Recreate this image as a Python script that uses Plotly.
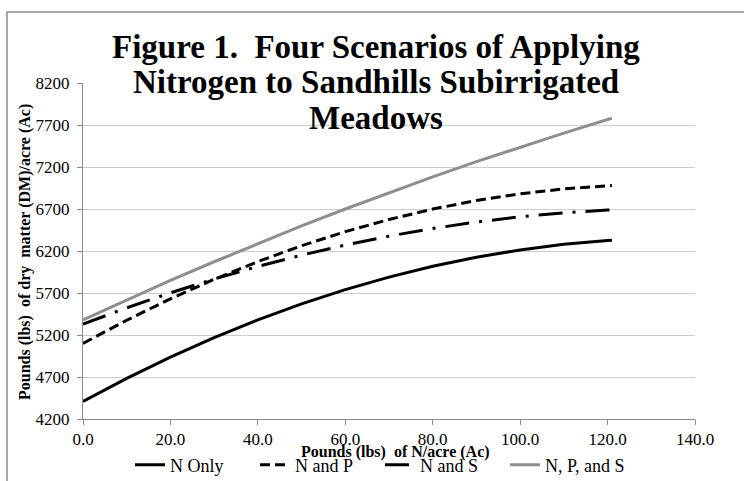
import plotly.graph_objects as go

# Data
n_rate = [0, 10, 20, 30, 40, 50, 60, 70, 80, 90, 100, 110, 120, 121]
n_only = [4410, 4684, 4937, 5169, 5380, 5571, 5740, 5889, 6018, 6126, 6213, 6279, 6325, 6328]
n_and_p = [5100, 5376, 5630, 5863, 6074, 6263, 6430, 6575, 6699, 6801, 6881, 6939, 6976, 6979]
n_and_s = [5330, 5523, 5702, 5866, 6016, 6151, 6271, 6377, 6468, 6545, 6607, 6655, 6688, 6690]
n_p_s = [5380, 5617, 5849, 6072, 6288, 6498, 6700, 6895, 7083, 7264, 7438, 7604, 7765, 7780]

series_names = ["N Only", "N and P", "N and S", "N, P, and S"]
x_ticks = [0, 20, 40, 60, 80, 100, 120, 140]
y_ticks = [4200, 4700, 5200, 5700, 6200, 6700, 7200, 7700, 8200]
title_lines = ["Figure 1.  Four Scenarios of Applying", "Nitrogen to Sandhills Subirrigated", "Meadows"]

SERIF = "Liberation Serif"

W, H = 744, 481
L, R, T, B = 83, 49, 83, 62
pw, ph = W - L - R, H - T - B

def px_x(x):
    return (x - L) / pw

def px_y(y):
    return (H - B - y) / ph

fig = go.Figure()
styles = [
    dict(color="black", width=3, dash="solid"),
    dict(color="black", width=3, dash="10px,5px"),
    dict(color="black", width=3, dash="24px,10px,3px,10px"),
    dict(color="#8e8e8e", width=3, dash="solid"),
]
for name, ys, st in zip(series_names, [n_only, n_and_p, n_and_s, n_p_s], styles):
    fig.add_trace(go.Scatter(x=n_rate, y=ys, mode="lines", name=name, line=st))

fig.update_layout(
    width=W, height=H,
    margin=dict(l=L, r=R, t=T, b=B, autoexpand=False),
    paper_bgcolor="white", plot_bgcolor="white",
    font=dict(family=SERIF, size=17, color="black"),
    showlegend=True,
    legend=dict(orientation="h", x=px_x(380), xanchor="center", y=px_y(465), yanchor="middle",
                font=dict(family=SERIF, size=18), bgcolor="rgba(0,0,0,0)",
                entrywidth=80, tracegroupgap=0),
    xaxis=dict(range=[0, 140], tickvals=x_ticks, ticktext=[f"{v:.1f}" for v in x_ticks],
               automargin=False,
               showgrid=False, zeroline=False, showline=True, linecolor="#8a8a8a", linewidth=1,
               ticks="outside", ticklen=5, tickcolor="#8a8a8a", ticklabelstandoff=0,
               tickfont=dict(family=SERIF, size=17)),
    yaxis=dict(range=[4200, 8200], tickvals=y_ticks, automargin=False,
               showgrid=True, gridcolor="#cccccc", gridwidth=1,
               zeroline=False, showline=True, linecolor="#8a8a8a", linewidth=1,
               ticks="outside", ticklen=5, tickcolor="#8a8a8a", ticklabelstandoff=4,
               tickfont=dict(family=SERIF, size=17)),
)

# Title lines
for line, yc in zip(title_lines, [47, 82, 118]):
    fig.add_annotation(text=f"<b>{line}</b>", xref="paper", yref="paper",
                       x=px_x(376), y=px_y(yc), xanchor="center", yanchor="middle",
                       showarrow=False, font=dict(family=SERIF, size=33, color="black"))
# Axis titles
fig.add_annotation(text="<b>Pounds (lbs)  of N/acre (Ac)</b>", xref="paper", yref="paper",
                   x=px_x(395), y=px_y(452), xanchor="center", yanchor="middle", showarrow=False,
                   font=dict(family=SERIF, size=16, color="black"))
fig.add_annotation(text="<b>Pounds (lbs)  of dry  matter (DM)/acre (Ac)</b>", xref="paper", yref="paper",
                   x=px_x(25), y=px_y(252), xanchor="center", yanchor="middle", showarrow=False,
                   textangle=-90, font=dict(family=SERIF, size=16, color="black"))
# Chart border
fig.add_shape(type="rect", xref="paper", yref="paper", x0=px_x(7), y0=px_y(540), x1=px_x(820), y1=px_y(12),
              line=dict(color="#8a8a8a", width=1.5), fillcolor="rgba(0,0,0,0)", layer="below")

fig.write_html("out.html", config={"displayModeBar": False},
               post_script="document.body.style.margin='0';document.body.style.overflow='hidden';")
